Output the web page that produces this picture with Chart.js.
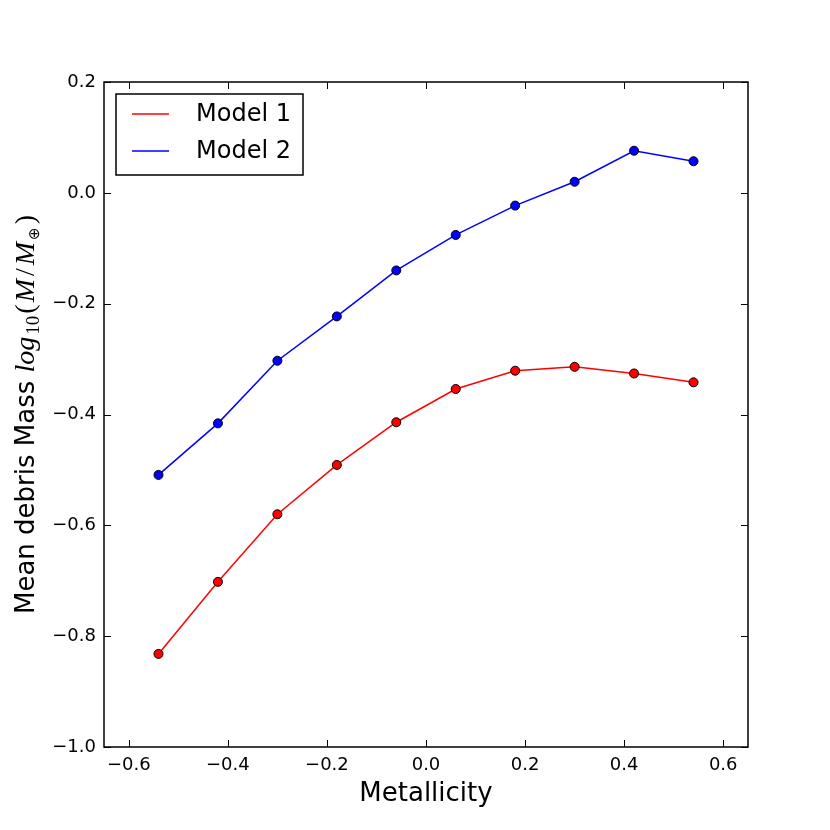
<!DOCTYPE html>
<html>
<head>
<meta charset="utf-8">
<script src="https://cdn.jsdelivr.net/npm/chart.js@4.4.1/dist/chart.umd.min.js"></script>
<style>
  html, body { margin: 0; padding: 0; background: #fff; }
  #wrap { width: 830px; height: 830px; }
</style>
</head>
<body>
<div id="wrap"><canvas id="chart"></canvas></div>
<script>
// Mean debris mass vs metallicity, two models

const metallicity = [-0.54, -0.42, -0.30, -0.18, -0.06, 0.06, 0.18, 0.30, 0.42, 0.54];
const model1 = [-0.832, -0.702, -0.580, -0.491, -0.414, -0.354, -0.321, -0.314, -0.326, -0.342];
const model2 = [-0.509, -0.416, -0.303, -0.223, -0.140, -0.076, -0.023, 0.020, 0.076, 0.057];

const seriesNames = ['Model 1', 'Model 2'];
const seriesColors = ['#ff0000', '#0000ff'];

const xTickValues = [-0.6, -0.4, -0.2, 0.0, 0.2, 0.4, 0.6];
const yTickValues = [-1.0, -0.8, -0.6, -0.4, -0.2, 0.0, 0.2];

const xTitle = 'Metallicity';
const yTitle = 'Mean debris Mass ';

const SANS = '"DejaVu Sans", sans-serif';
const SERIF = '"Liberation Serif", "DejaVu Serif", serif';

function fmtTick(v) {
    const s = Math.abs(v).toFixed(1);
    return v < -1e-9 ? '\u2212' + s : s;
}

function toPoints(xs, ys) {
    return xs.map((x, i) => ({ x: x, y: ys[i] }));
}

// frame + inward ticks on all four sides (matplotlib classic look)
const framePlugin = {
    id: 'frame',
    afterDraw(chart) {
        const { ctx, chartArea: a, scales } = chart;
        const len = 7;
        ctx.save();
        ctx.strokeStyle = '#000';
        ctx.lineWidth = 1;
        ctx.beginPath();
        xTickValues.forEach(v => {
            const px = Math.round(scales.x.getPixelForValue(v)) + 0.5;
            ctx.moveTo(px, a.bottom); ctx.lineTo(px, a.bottom - len);
            ctx.moveTo(px, a.top); ctx.lineTo(px, a.top + len);
        });
        yTickValues.forEach(v => {
            const py = Math.round(scales.y.getPixelForValue(v)) + 0.5;
            ctx.moveTo(a.left, py); ctx.lineTo(a.left + len, py);
            ctx.moveTo(a.right, py); ctx.lineTo(a.right - len, py);
        });
        ctx.stroke();
        ctx.lineWidth = 1.5;
        ctx.strokeRect(a.left, a.top, a.right - a.left, a.bottom - a.top);
        ctx.restore();
    }
};

// legend box in the upper-left of the plot
const legendPlugin = {
    id: 'boxLegend',
    afterDraw(chart) {
        const { ctx, chartArea: a } = chart;
        const x0 = a.left + 12, y0 = a.top + 12;
        const w = 187, h = 81;
        ctx.save();
        ctx.fillStyle = '#fff';
        ctx.fillRect(x0, y0, w, h);
        ctx.strokeStyle = '#000';
        ctx.lineWidth = 1.5;
        ctx.strokeRect(x0, y0, w, h);
        ctx.font = '24px ' + SANS;
        ctx.textBaseline = 'middle';
        ctx.textAlign = 'left';
        chart.data.datasets.forEach((ds, i) => {
            const cy = y0 + 20 + i * 37;
            ctx.strokeStyle = ds.borderColor;
            ctx.lineWidth = 1.5;
            ctx.beginPath();
            ctx.moveTo(x0 + 16, cy);
            ctx.lineTo(x0 + 53, cy);
            ctx.stroke();
            ctx.fillStyle = '#000';
            ctx.fillText(ds.label, x0 + 80, cy + 1);
        });
        ctx.restore();
    }
};

// axis titles, y title has mathtext-like pieces
const titlesPlugin = {
    id: 'axisTitles',
    afterDraw(chart) {
        const { ctx, chartArea: a } = chart;
        ctx.save();
        ctx.fillStyle = '#000';
        ctx.font = '26px ' + SANS;
        ctx.textAlign = 'center';
        ctx.textBaseline = 'alphabetic';
        ctx.fillText(xTitle, (a.left + a.right) / 2, 801);

        const pieces = [
            { t: yTitle, f: '26px ' + SANS, dy: 0, gap: 0 },
            { t: 'log', f: 'italic 28px ' + SERIF, dy: 0, gap: 2 },
            { t: '10', f: '19px ' + SERIF, dy: 5, gap: 2 },
            { t: '(', f: '28px ' + SERIF, dy: 0, gap: 2 },
            { t: 'M', f: 'italic 28px ' + SERIF, dy: 0, gap: 3 },
            { t: '/', f: '28px ' + SERIF, dy: 0, gap: 3 },
            { t: 'M', f: 'italic 28px ' + SERIF, dy: 0, gap: 2 },
            { t: '\u2295', f: '15px "DejaVu Sans", sans-serif', dy: 5, gap: 3 },
            { t: ')', f: '28px ' + SERIF, dy: 0, gap: 0 }
        ];
        let total = 0;
        pieces.forEach(p => { ctx.font = p.f; p.w = ctx.measureText(p.t).width + p.gap; total += p.w; });
        ctx.translate(34, (a.top + a.bottom) / 2);
        ctx.rotate(-Math.PI / 2);
        ctx.textAlign = 'left';
        let cx = -total / 2;
        pieces.forEach(p => {
            ctx.font = p.f;
            ctx.fillText(p.t, cx, p.dy);
            cx += p.w;
        });
        ctx.restore();
    }
};

new Chart(document.getElementById('chart'), {
    type: 'line',
    data: {
        datasets: [
            {
                label: seriesNames[0],
                data: toPoints(metallicity, model1),
                borderColor: seriesColors[0],
                backgroundColor: seriesColors[0],
                pointBackgroundColor: seriesColors[0],
                pointBorderColor: '#000',
                pointBorderWidth: 1,
                pointRadius: 4.5,
                borderWidth: 1.5,
                tension: 0,
                fill: false
            },
            {
                label: seriesNames[1],
                data: toPoints(metallicity, model2),
                borderColor: seriesColors[1],
                backgroundColor: seriesColors[1],
                pointBackgroundColor: seriesColors[1],
                pointBorderColor: '#000',
                pointBorderWidth: 1,
                pointRadius: 4.5,
                borderWidth: 1.5,
                tension: 0,
                fill: false
            }
        ]
    },
    options: {
        responsive: true,
        maintainAspectRatio: false,
        animation: false,
        layout: { padding: { left: 0, top: 82, right: 82, bottom: 0 } },
        plugins: {
            legend: { display: false },
            tooltip: { enabled: false },
            title: { display: false }
        },
        scales: {
            x: {
                type: 'linear',
                min: -0.65,
                max: 0.65,
                afterBuildTicks: s => { s.ticks = xTickValues.map(v => ({ value: v })); },
                afterFit: s => { s.height = 83; },
                grid: { display: false, drawTicks: false },
                border: { display: false },
                ticks: {
                    padding: 8,
                    color: '#000',
                    font: { family: SANS, size: 18 },
                    maxRotation: 0,
                    callback: v => fmtTick(v)
                }
            },
            y: {
                type: 'linear',
                min: -1.0,
                max: 0.2,
                afterBuildTicks: s => { s.ticks = yTickValues.map(v => ({ value: v })); },
                afterFit: s => { s.width = 104; },
                grid: { display: false, drawTicks: false },
                border: { display: false },
                ticks: {
                    padding: 8,
                    color: '#000',
                    font: { family: SANS, size: 18 },
                    callback: v => fmtTick(v)
                }
            }
        }
    },
    plugins: [framePlugin, legendPlugin, titlesPlugin]
});
</script>
</body>
</html>
